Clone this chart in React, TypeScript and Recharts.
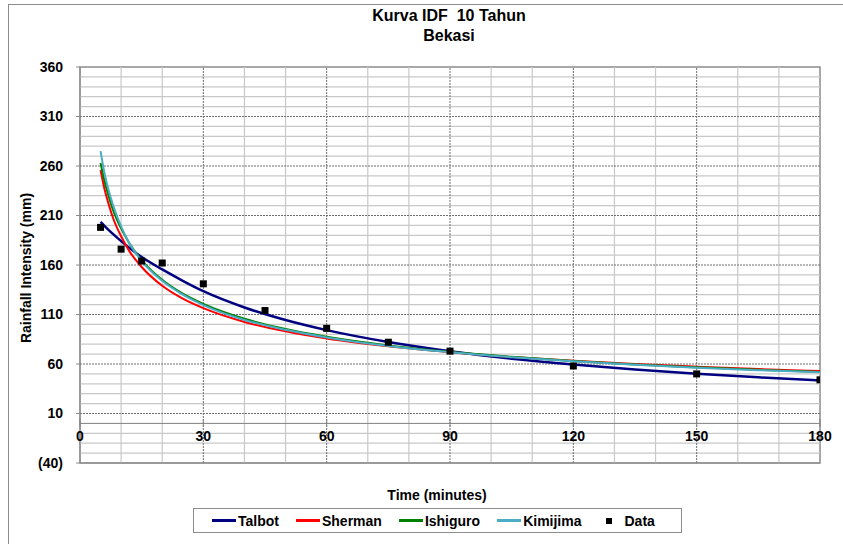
import { ComposedChart, Line, Scatter, XAxis, YAxis, ReferenceLine, ReferenceArea, Legend } from "recharts";

const FONT = '"Liberation Sans", Arial, sans-serif';

// fitted curves
const curveTime = [5, 6, 7, 8, 10, 12, 15, 20, 25, 30, 40, 50, 60, 75, 90, 105, 120, 135, 150, 165, 180];
const talbot = [203.5, 199.3, 195.3, 191.4, 184.1, 177.3, 168, 155.5, 144, 133.5, 117.1, 104.4, 94.2, 82.2, 72.9, 65.4, 59.4, 54.4, 50.1, 46.5, 43.4];
const sherman = [256, 236, 221, 208, 189, 174, 158, 139, 126, 116.4, 102.5, 93, 85.8, 77.8, 71.8, 67, 63.2, 60, 57.3, 54.9, 52.9];
const ishiguro = [263, 244, 229, 216, 197, 182, 165, 145, 131, 120.7, 105.7, 95.3, 87.5, 78.8, 72.3, 67.2, 63, 59.6, 56.7, 54.1, 51.9];
const kimijima = [275, 252, 235, 221, 199, 182, 164, 144, 130, 119.5, 104.5, 94.5, 86.8, 78.2, 71.9, 66.9, 62.7, 59.2, 56.3, 53.8, 51.6];

// observed intensities
const dataTime = [5, 10, 15, 20, 30, 45, 60, 75, 90, 120, 150, 180];
const dataValues = [198, 176, 164, 162, 141, 114, 96, 82, 73, 58, 50, 44];

const xTicks = [0, 30, 60, 90, 120, 150, 180];
const yTicks = [-40, 10, 60, 110, 160, 210, 260, 310, 360];
const xMajor = [30, 60, 90, 120, 150];
const yMajor = [10, 60, 110, 160, 210, 260, 310];
const xMinor = [10, 20, 40, 50, 70, 80, 100, 110, 130, 140, 160, 170];
const yMinor = [-30, -20, -10, 20, 30, 40, 50, 70, 80, 90, 100, 120, 130, 140, 150, 170, 180, 190, 200, 220, 230, 240, 250, 270, 280, 290, 300, 320, 330, 340, 350];

const legendOrder = ["Talbot", "Sherman", "Ishiguro", "Kimijima", "Data"];

const toPoints = (vals: number[]) => curveTime.map((t, i) => ({ t, v: vals[i] }));
const dataPoints = dataTime.map((t, i) => ({ t, v: dataValues[i] }));

const series = [
  { name: "Talbot", vals: talbot, color: "#000080", width: 2.5 },
  { name: "Sherman", vals: sherman, color: "#ff0000", width: 2 },
  { name: "Ishiguro", vals: ishiguro, color: "#008000", width: 2 },
  { name: "Kimijima", vals: kimijima, color: "#4bacc6", width: 2 },
];

const fmtY = (v: number) => (v < 0 ? `(${-v})` : `${v}`);

const XTick = (props: any) => {
  const { x, y, payload } = props;
  return (
    <g>
      <line x1={x} x2={x} y1={y - 44} y2={y - 36} stroke="#808080" />
      <text x={x} y={y - 22} textAnchor="middle" fontSize={14} fontWeight="bold" fontFamily={FONT} fill="#000">
        {payload.value}
      </text>
    </g>
  );
};

const Square = (props: any) => {
  const { cx, cy } = props;
  return <rect x={cx - 3.5} y={cy - 3.5} width={7} height={7} fill="#000" />;
};

const renderLegend = (props: any) => {
  const items = [...(props.payload || [])].sort(
    (a: any, b: any) => legendOrder.indexOf(a.value) - legendOrder.indexOf(b.value)
  );
  return (
    <div
      style={{
        border: "1px solid #8c8c8c",
        height: 25,
        boxSizing: "border-box",
        display: "flex",
        alignItems: "center",
        paddingLeft: 18,
        gap: 17,
        fontFamily: FONT,
        fontWeight: "bold",
        fontSize: 14,
        color: "#000",
        background: "#fff",
      }}
    >
      {items.map((e: any) => (
        <div key={e.value} style={{ display: "flex", alignItems: "center" }}>
          {e.type === "square" ? (
            <span style={{ width: 6, height: 6, background: "#000", marginLeft: 8, marginRight: 12 }} />
          ) : (
            <span style={{ width: 24, height: 2.5, background: e.color, marginRight: 2 }} />
          )}
          <span>{e.value}</span>
        </div>
      ))}
    </div>
  );
};

export default function App() {
  return (
    <div style={{ position: "absolute", left: 0, top: 0, background: "#fff" }}>
      <ComposedChart width={843} height={544} margin={{ top: 67, right: 23, bottom: 51, left: 0 }}>
        <rect x={8.5} y={4.5} width={900} height={600} fill="none" stroke="#8c8c8c" />
        <text x={449} y={21} textAnchor="middle" fontSize={16} fontWeight="bold" fontFamily={FONT} fill="#000" style={{ whiteSpace: "pre" }}>
          {"Kurva IDF  10 Tahun"}
        </text>
        <text x={449} y={41} textAnchor="middle" fontSize={16} fontWeight="bold" fontFamily={FONT} fill="#000">
          Bekasi
        </text>
        <text x={437} y={500} textAnchor="middle" fontSize={14} fontWeight="bold" fontFamily={FONT} fill="#000">
          Time (minutes)
        </text>
        <text
          x={31}
          y={268}
          textAnchor="middle"
          fontSize={14}
          fontWeight="bold"
          fontFamily={FONT}
          fill="#000"
          transform="rotate(-90 31 268)"
        >
          Rainfall Intensity (mm)
        </text>
        <XAxis
          dataKey="t"
          type="number"
          domain={[0, 180]}
          ticks={xTicks}
          height={30}
          tickSize={0}
          tickMargin={0}
          axisLine={{ stroke: "#8c8c8c" }}
          tick={<XTick />}
          allowDataOverflow
        />
        <YAxis
          type="number"
          domain={[-40, 360]}
          ticks={yTicks}
          width={80}
          tickSize={4}
          tickMargin={13}
          tickFormatter={fmtY}
          axisLine={{ stroke: "#8c8c8c" }}
          tickLine={{ stroke: "#8c8c8c" }}
          tick={{ fontSize: 14, fontWeight: "bold", fill: "#000", fontFamily: FONT }}
          allowDataOverflow
        />
        {yMinor.map((v) => (
          <ReferenceLine key={`ym${v}`} y={v} stroke="#c8c8c8" strokeWidth={1.2} />
        ))}
        {xMinor.map((v) => (
          <ReferenceLine key={`xm${v}`} x={v} stroke="#c8c8c8" strokeWidth={1.2} />
        ))}
        {yMajor.map((v) => (
          <ReferenceLine key={`yM${v}`} y={v} stroke="#6e6e6e" strokeDasharray="2 1" />
        ))}
        {xMajor.map((v) => (
          <ReferenceLine key={`xM${v}`} x={v} stroke="#6e6e6e" strokeDasharray="2 1" />
        ))}
        <ReferenceArea x1={0} x2={180} y1={-40} y2={360} fill="none" stroke="#8c8c8c" strokeWidth={1.5} />
        <ReferenceLine y={0} stroke="#808080" />
        {series.map((s) => (
          <Line
            key={s.name}
            data={toPoints(s.vals)}
            dataKey="v"
            name={s.name}
            type="monotone"
            stroke={s.color}
            strokeWidth={s.width}
            dot={false}
            legendType="line"
            isAnimationActive={false}
          />
        ))}
        <Scatter data={dataPoints} dataKey="v" name="Data" fill="#000" shape={<Square />} legendType="square" isAnimationActive={false} />
        <Legend
          verticalAlign="middle"
          align="center"
          layout="horizontal"
          wrapperStyle={{ left: 193, top: 508, width: 489, height: 25 }}
          content={renderLegend}
        />
      </ComposedChart>
    </div>
  );
}
